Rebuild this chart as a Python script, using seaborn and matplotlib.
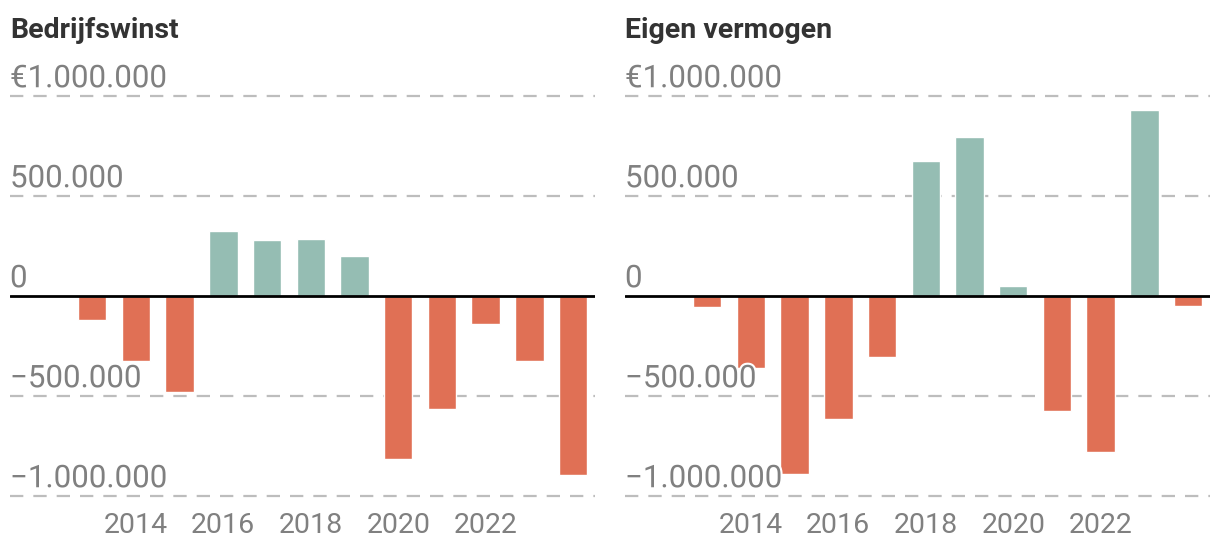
import matplotlib
matplotlib.use("Agg")
import matplotlib.pyplot as plt
import matplotlib.patheffects as pe
import matplotlib.transforms as mtransforms
import seaborn as sns
import pandas as pd

# ---- data ----
years = [2013, 2014, 2015, 2016, 2017, 2018, 2019, 2020, 2021, 2022, 2023, 2024]
bedrijfswinst = [-120000, -325000, -480000, 325000, 280000, 285000, 200000,
                 -815000, -565000, -140000, -325000, -895000]
eigen_vermogen = [-55000, -360000, -890000, -615000, -305000, 675000, 795000,
                  50000, -575000, -780000, 930000, -50000]
titles = ["Bedrijfswinst", "Eigen vermogen"]
ytick_values = [1000000, 500000, 0, -500000, -1000000]
ytick_labels = ["€1.000.000", "500.000", "0", "−500.000", "−1.000.000"]
xtick_years = [2014, 2016, 2018, 2020, 2022]

POS = "#95bdb3"
NEG = "#e07055"
GRAY = "#808080"

sns.set_theme(style="white")
plt.rcParams["font.family"] = ["Roboto", "DejaVu Sans"]

W, H = 1220, 552
fig = plt.figure(figsize=(W / 100, H / 100), dpi=100)

series = [bedrijfswinst, eigen_vermogen]
lefts_px = [10, 625]
ax_w_px = 585
top_px, bot_px = 90, 502
ylim = (-1030000, 1030000)

for i, (vals, title) in enumerate(zip(series, titles)):
    ax = fig.add_axes([lefts_px[i] / W, (H - bot_px) / H, ax_w_px / W, (bot_px - top_px) / H])
    df = pd.DataFrame({"year": years, "value": vals})
    df["sign"] = ["pos" if v >= 0 else "neg" for v in vals]
    for yv in ytick_values:
        if yv != 0:
            ax.axhline(yv, color="#bdbdbd", lw=1.6, ls=(0, (6, 4.5)), zorder=0)
    sns.barplot(data=df, x="year", y="value", hue="sign",
                palette={"pos": POS, "neg": NEG}, native_scale=True,
                width=0.65, legend=False, ax=ax, zorder=2, saturation=1)
    ax.axhline(0, color="black", lw=2, zorder=3)
    ax.set_xlim(2011.12, 2024.5)
    ax.set_ylim(*ylim)
    for s in ax.spines.values():
        s.set_visible(False)
    ax.set_xlabel("")
    ax.set_ylabel("")
    ax.set_yticks([])
    ax.set_xticks(xtick_years)
    ax.set_xticklabels([str(y) for y in xtick_years])
    ax.tick_params(axis="x", length=0, pad=7, labelsize=20.5, labelcolor=GRAY)
    trans = mtransforms.blended_transform_factory(ax.transAxes, ax.transData)
    for yv, lab in zip(ytick_values, ytick_labels):
        ax.annotate(lab, xy=(0, yv), xycoords=trans, xytext=(0, 6.3),
                    textcoords="offset points", ha="left", va="baseline",
                    fontsize=22.5, color=GRAY, zorder=5,
                    path_effects=[pe.withStroke(linewidth=3, foreground="white")])
    fig.text(lefts_px[i] / W, (H - 38) / H, title, ha="left", va="baseline",
             fontsize=20.5, fontweight="bold", color="#333333")

fig.savefig("out.png", dpi=100)
